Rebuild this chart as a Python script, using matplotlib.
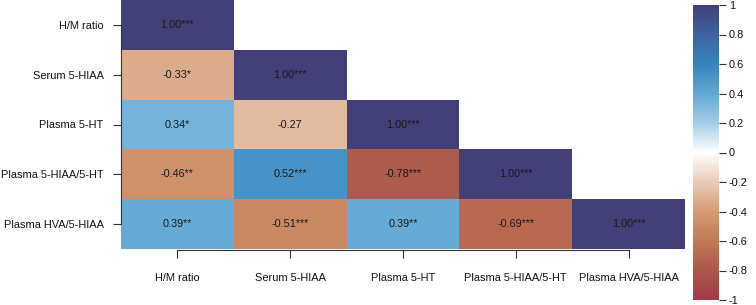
import numpy as np
import matplotlib
matplotlib.use('Agg')
import matplotlib.pyplot as plt
from matplotlib.colors import LinearSegmentedColormap

plt.rcParams['font.family'] = ['Liberation Sans', 'DejaVu Sans']

labels = ['H/M ratio', 'Serum 5-HIAA', 'Plasma 5-HT', 'Plasma 5-HIAA/5-HT', 'Plasma HVA/5-HIAA']

# lower triangle incl. diagonal, NaN above
r = [
    [1.00, np.nan, np.nan, np.nan, np.nan],
    [-0.33, 1.00, np.nan, np.nan, np.nan],
    [0.34, -0.27, 1.00, np.nan, np.nan],
    [-0.46, 0.52, -0.78, 1.00, np.nan],
    [0.39, -0.51, 0.39, -0.69, 1.00],
]
stars = [
    ['***', '', '', '', ''],
    ['*', '***', '', '', ''],
    ['*', '', '***', '', ''],
    ['**', '***', '***', '***', ''],
    ['**', '***', '**', '***', '***'],
]
cbar_ticks = [-1, -0.8, -0.6, -0.4, -0.2, 0, 0.2, 0.4, 0.6, 0.8, 1]

r = np.array(r)

stops = [-1, -0.8, -0.6, -0.4, -0.2, 0, 0.2, 0.4, 0.6, 0.8, 1]
cols = ['#a3394b', '#ab584b', '#c27a55', '#d49b74', '#e9cbb8', '#ffffff',
        '#a5cde6', '#62a8d5', '#3584bd', '#3a64a4', '#433f78']
cmap = LinearSegmentedColormap.from_list('rb', [((s + 1) / 2, c) for s, c in zip(stops, cols)])

fig = plt.figure(figsize=(7.56, 3.05), dpi=100)
ax = fig.add_axes([121 / 756, 56 / 305, 564 / 756, 249 / 305])

data = np.ma.masked_invalid(r)
mesh = ax.pcolormesh(data, cmap=cmap, vmin=-1, vmax=1)
ax.set_xlim(0, 5)
ax.set_ylim(5, 0)

for i in range(5):
    for j in range(i + 1):
        ax.text(j + 0.5, i + 0.5, f'{r[i, j]:.2f}{stars[i][j]}', ha='center', va='center',
                fontsize=7.8, color='#1a1a1a')

ax.set_xticks(np.arange(5) + 0.5)
ax.set_xticklabels(labels)
ax.set_yticks(np.arange(5) + 0.5)
ax.set_yticklabels(labels)
ax.tick_params(axis='x', length=6, width=0.8, pad=10, color='#333333', labelsize=7.9, labelcolor='#111111')
ax.tick_params(axis='y', length=6, width=0.8, pad=6.5, color='#333333', labelsize=7.9, labelcolor='#111111')
for s in ['top', 'right']:
    ax.spines[s].set_visible(False)
ax.spines['left'].set_bounds(0.5, 4.5)
ax.spines['bottom'].set_bounds(0.5, 4.5)
ax.spines['bottom'].set_position(('outward', 1))
for s in ['left', 'bottom']:
    ax.spines[s].set_linewidth(0.8)
    ax.spines[s].set_color('#333333')

cax = fig.add_axes([693 / 756, 5 / 305, 26 / 756, 295 / 305])
cb = fig.colorbar(mesh, cax=cax, ticks=cbar_ticks)
cb.outline.set_visible(False)
cb.ax.set_yticklabels([f'{t:g}' for t in cbar_ticks])
cb.ax.tick_params(length=5, width=0.8, pad=2, color='#333333', labelsize=7.9, labelcolor='#111111')

fig.savefig('out.png', dpi=100)
